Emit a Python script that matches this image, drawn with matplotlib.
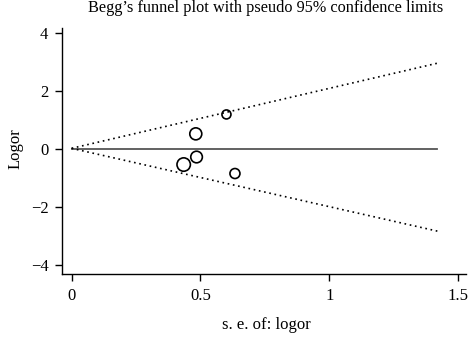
import numpy as np
import matplotlib
matplotlib.use("Agg")
import matplotlib.pyplot as plt

# study data
se_logor = [0.601, 0.482, 0.485, 0.435, 0.634]
logor = [1.20, 0.53, -0.27, -0.53, -0.84]
weight = [4.5, 6.0, 5.8, 6.7, 5.0]   # relative circle size

# pooled estimate and pseudo 95% limits
theta = 0.0
limit_se = [0.0, 1.42]
upper_lim = [0.03, 2.97]
lower_lim = [0.03, -2.83]

xticks = [0, 0.5, 1, 1.5]
xtick_lab = ["0", "0.5", "1", "1.5"]
yticks = [-4, -2, 0, 2, 4]
ytick_lab = ["\u22124", "\u22122", "0", "2", "4"]

plt.rcParams['font.family'] = ['Liberation Serif', 'DejaVu Serif']

fig = plt.figure(figsize=(4.71, 3.39), dpi=100)
ax = fig.add_axes([0.1323, 0.1917, 0.8567, 0.7253])

ax.plot(limit_se, [theta, theta], color='#555555', lw=1.3, zorder=1)
ax.plot(limit_se, upper_lim, color='black', lw=1.2, ls=(0, (1, 2.2)), zorder=1)
ax.plot(limit_se, lower_lim, color='black', lw=1.2, ls=(0, (1, 2.2)), zorder=1)

sz = (2 * np.array(weight) * 0.72) ** 2
ax.scatter(se_logor, logor, s=sz, facecolors='none', edgecolors='black',
           linewidths=1.2, zorder=3)

ax.set_xlim(-0.036, 1.53)
ax.set_ylim(-4.31, 4.18)
ax.set_xticks(xticks)
ax.set_xticklabels(xtick_lab)
ax.set_yticks(yticks)
ax.set_yticklabels(ytick_lab)
ax.tick_params(direction='out', length=5, width=1, labelsize=12, pad=5)

for s in ['top', 'right']:
    ax.spines[s].set_visible(False)
for s in ['left', 'bottom']:
    ax.spines[s].set_linewidth(1.0)

fig.text(0.565, 0.975, "Begg\u2019s funnel plot with pseudo 95% confidence limits",
         ha='center', va='center', fontsize=11.7)
fig.text(0.033, 0.563, "Logor", rotation=90, ha='center', va='center', fontsize=12)
fig.text(0.565, 0.04, "s. e. of: logor", ha='center', va='center', fontsize=12)

fig.savefig("out.png", dpi=100)
